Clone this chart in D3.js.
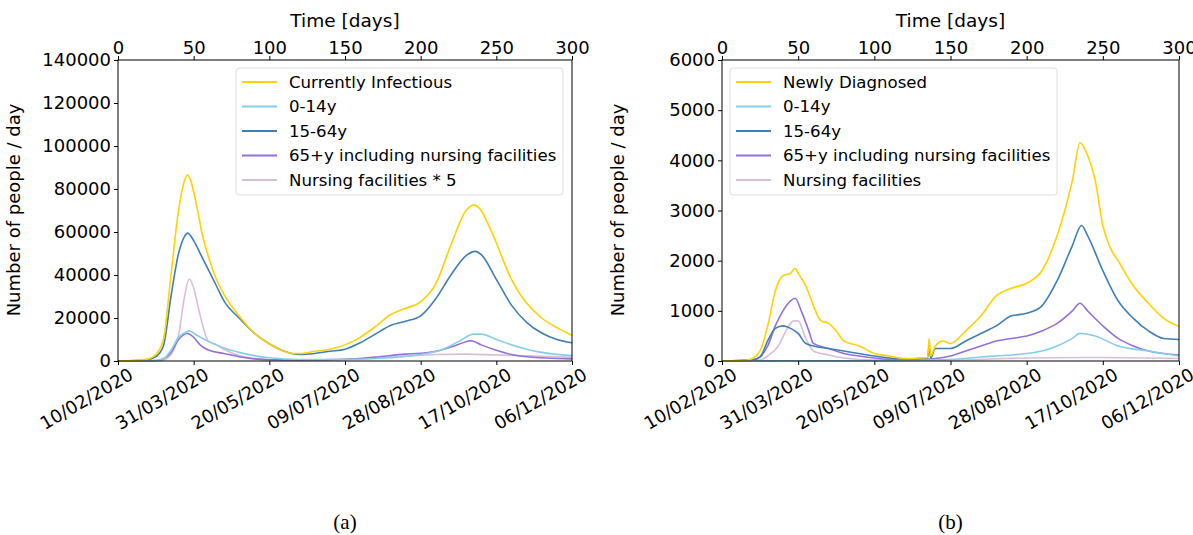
<!DOCTYPE html>
<html><head><meta charset="utf-8">
<script src="https://cdn.jsdelivr.net/npm/d3@7"></script>
<style>body{margin:0;background:#fff}svg{font-family:"DejaVu Sans",sans-serif}</style>
</head><body><svg width="1193" height="535"></svg>
<script>
// [day, value]
const infectious = [[0,0],[10,200],[20,1000],[25,3000],[30,10000],[35,40000],[40,70000],[44,84000],[46,86500],[48,84000],[52,72000],[56,58000],[60,48000],[65,38000],[70,31000],[80,21000],[90,13000],[100,8000],[110,4500],[115,3500],[120,3500],[130,4500],[140,5500],[150,7500],[160,11000],[170,16000],[180,21500],[190,24500],[200,27500],[210,36000],[220,54000],[230,70000],[235,72500],[240,70000],[245,63000],[250,55000],[255,46000],[260,38000],[270,27000],[280,20000],[290,15500],[300,12000]];
const age0to14A = [[0,0],[25,200],[30,1000],[35,5000],[40,11000],[45,13500],[47,14000],[52,12000],[60,9000],[70,6000],[80,4000],[90,2500],[100,1500],[120,700],[150,700],[180,1500],[200,3000],[215,5500],[225,9000],[235,12500],[240,12500],[250,10000],[260,7500],[270,5500],[280,4000],[300,2500]];
const age15to64A = [[0,0],[20,700],[25,2000],[30,7000],[35,30000],[40,50000],[44,58000],[46,59500],[50,56000],[55,49000],[60,42000],[65,35000],[70,28000],[80,20000],[90,13000],[100,8000],[110,4500],[120,3000],[130,3500],[140,4500],[150,5500],[160,8500],[170,12500],[180,16500],[190,18500],[200,21000],[210,29000],[220,40000],[230,49000],[236,51000],[240,49500],[250,38000],[260,26000],[270,18000],[280,13000],[290,10000],[300,8500]];
const age65A = [[0,0],[25,200],[30,1000],[35,4000],[40,10000],[46,12800],[50,11000],[55,7000],[60,5000],[70,3500],[80,2000],[90,1000],[100,600],[120,500],[150,800],[170,1800],[190,3200],[200,3600],[210,4500],[220,6500],[230,9000],[233,9500],[240,7500],[250,5000],[260,3000],[270,2000],[300,1000]];
const nursingA = [[0,0],[25,100],[30,500],[35,3000],[40,12000],[44,30000],[47,38000],[50,34000],[53,25000],[57,14000],[60,9000],[64,8000],[70,5500],[80,2500],[90,1200],[100,600],[120,300],[150,700],[170,1500],[190,2200],[210,3000],[230,3200],[250,2800],[270,2400],[300,1800]];

const diagnosed = [[0,0],[15,10],[20,50],[25,200],[30,700],[35,1400],[40,1700],[45,1750],[48,1850],[50,1750],[55,1500],[60,1100],[65,800],[70,750],[75,600],[80,400],[90,300],[100,150],[110,100],[120,50],[130,60],[135,70],[136,450],[137,100],[140,300],[145,400],[150,350],[160,600],[170,900],[180,1300],[190,1450],[200,1550],[210,1800],[220,2500],[230,3600],[235,4350],[240,4100],[245,3600],[250,2700],[255,2250],[260,2000],[270,1500],[280,1150],[290,850],[300,690]];
const age0to14B = [[0,0],[40,5],[100,5],[150,30],[170,80],[190,120],[200,150],[210,200],[220,300],[230,450],[235,550],[245,500],[260,300],[280,200],[300,100]];
const age15to64B = [[0,0],[20,20],[25,80],[30,400],[35,650],[40,700],[45,650],[50,550],[55,350],[60,300],[70,250],[80,200],[100,100],[120,40],[135,60],[136,300],[137,60],[140,250],[150,250],[160,400],[170,550],[180,700],[190,900],[200,950],[210,1100],[220,1600],[230,2300],[236,2700],[240,2500],[250,1800],[260,1200],[270,850],[280,600],[290,450],[300,430]];
const age65B = [[0,0],[20,20],[25,80],[30,300],[35,700],[40,1000],[45,1200],[48,1250],[52,1000],[57,600],[60,350],[70,250],[80,150],[90,100],[100,60],[120,20],[140,50],[150,100],[160,200],[170,300],[180,400],[190,450],[200,500],[210,600],[220,750],[230,1000],[235,1150],[240,1000],[250,700],[260,450],[270,300],[280,200],[300,120]];
const nursingB = [[0,0],[25,20],[30,100],[37,300],[42,600],[47,800],[50,800],[55,450],[60,200],[70,120],[80,60],[100,20],[150,20],[200,60],[250,70],[300,50]];

const dayTicks = [0,50,100,150,200,250,300];
const dateLabels = ["10/02/2020","31/03/2020","20/05/2020","09/07/2020","28/08/2020","17/10/2020","06/12/2020"];
const yTicksA = [0,20000,40000,60000,80000,100000,120000,140000];
const yTicksB = [0,1000,2000,3000,4000,5000,6000];
const colors = ["#FFD200","#87CEEB","#3F7FB5","#9370DB","#D8BFD8"];

const svg = d3.select("svg");

function panel(x0, x1, ymax, yTicks, series, names, legendX, caption) {
    const x = d3.scaleLinear().domain([0,300]).range([x0,x1]);
    const y = d3.scaleLinear().domain([0,ymax]).range([361,60]);
    const g = svg.append("g");
    const line = d3.line().x(d => x(d[0])).y(d => y(d[1])).curve(d3.curveMonotoneX);

    // draw in reverse so yellow sits on top
    series.slice().reverse().forEach((s, i) => {
        g.append("path").attr("d", line(s)).attr("fill","none")
            .attr("stroke", colors[series.length-1-i]).attr("stroke-width",1.6);
    });

    g.append("rect").attr("x",x0).attr("y",60).attr("width",x1-x0).attr("height",301)
        .attr("fill","none").attr("stroke","#000").attr("stroke-width",1);

    const top = g.append("g").attr("transform","translate(0,60)")
        .call(d3.axisTop(x).tickValues(dayTicks).tickSize(4).tickPadding(2));
    const bottom = g.append("g").attr("transform","translate(0,361)")
        .call(d3.axisBottom(x).tickValues(dayTicks).tickFormat((d,i) => dateLabels[i]).tickSize(4));
    bottom.selectAll("text").attr("text-anchor","end")
        .attr("transform","translate(0,4) rotate(-30)").attr("dy","0.7em").attr("dx","0.4em");
    const left = g.append("g").attr("transform",`translate(${x0},0)`)
        .call(d3.axisLeft(y).tickValues(yTicks).tickFormat(d3.format("d")).tickSize(4).tickPadding(3));
    [top,bottom,left].forEach(a => {
        a.select(".domain").remove();
        a.selectAll("text").attr("font-size",18).attr("font-family","DejaVu Sans").attr("fill","#000");
    });

    g.append("text").attr("x",(x0+x1)/2).attr("y",27).attr("text-anchor","middle")
        .attr("font-size",18.5).text("Time [days]");
    g.append("text").attr("transform",`translate(${x0-98},210) rotate(-90)`)
        .attr("text-anchor","middle").attr("font-size",18).text("Number of people / day");
    g.append("text").attr("x",(x0+x1)/2).attr("y",529).attr("text-anchor","middle")
        .attr("font-family","Liberation Serif").attr("font-size",21).text(caption);

    const lg = g.append("g").attr("transform",`translate(${legendX},68)`);
    lg.append("rect").attr("width",327).attr("height",127).attr("rx",3)
        .attr("fill","#fff").attr("fill-opacity",0.8).attr("stroke","#ddd");
    names.forEach((n, i) => {
        const yy = 14 + i*24.5;
        lg.append("line").attr("x1",6).attr("x2",41).attr("y1",yy).attr("y2",yy)
            .attr("stroke",colors[i]).attr("stroke-width",1.8);
        lg.append("text").attr("x",53).attr("y",yy+5.5).attr("font-size",16.6).text(n);
    });
}

panel(118, 572, 140000, yTicksA, [infectious, age0to14A, age15to64A, age65A, nursingA],
    ["Currently Infectious","0-14y","15-64y","65+y including nursing facilities","Nursing facilities * 5"], 236, "(a)");
panel(722, 1179, 6000, yTicksB, [diagnosed, age0to14B, age15to64B, age65B, nursingB],
    ["Newly Diagnosed","0-14y","15-64y","65+y including nursing facilities","Nursing facilities"], 730, "(b)");
</script></body></html>
